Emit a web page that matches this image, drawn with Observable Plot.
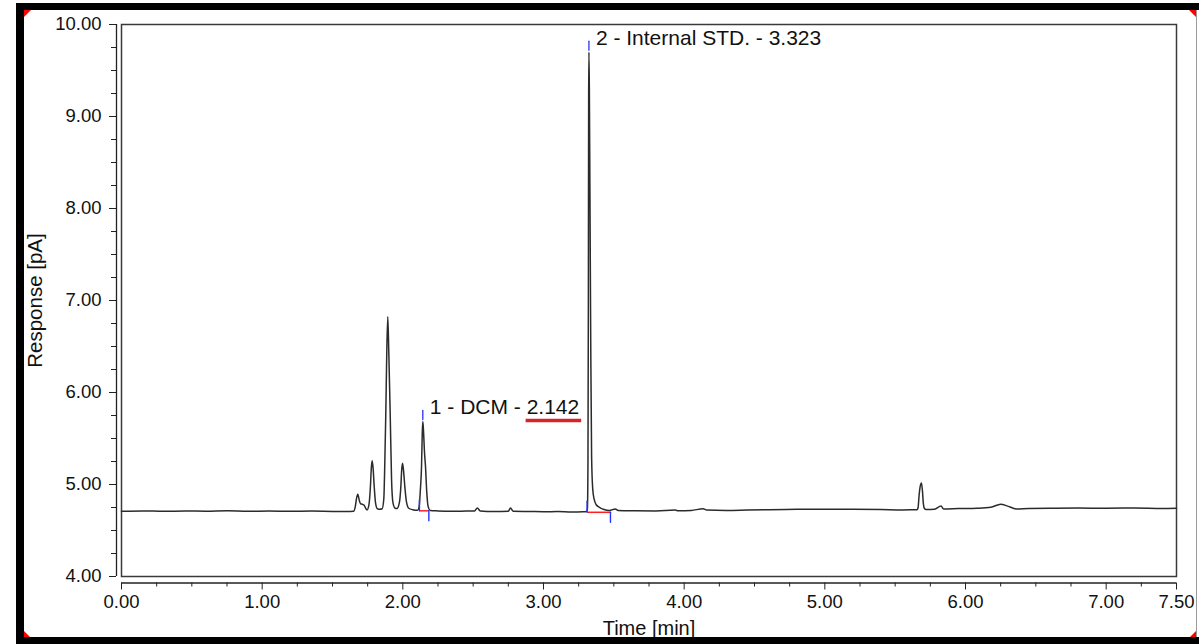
<!DOCTYPE html>
<html>
<head>
<meta charset="utf-8">
<script src="https://cdn.jsdelivr.net/npm/d3@7"></script>
<script src="https://cdn.jsdelivr.net/npm/@observablehq/plot@0.6"></script>
<style>
html, body { margin: 0; padding: 0; background: #fff; }
#wrap { position: relative; width: 1199px; height: 644px; overflow: hidden; background: #fff; }
#chart { position: absolute; left: 0; top: 0; }
.bar { position: absolute; background: #000; }
.tri { position: absolute; width: 0; height: 0; }
</style>
</head>
<body>
<div id="wrap">
  <div id="chart"></div>
  <div class="bar" style="left:16px;top:3px;width:1183px;height:7px"></div>
  <div class="bar" style="left:16px;top:3px;width:8px;height:641px"></div>
  <div class="bar" style="left:16px;top:637px;width:1183px;height:7px"></div>
  <div style="position:absolute;left:1196px;top:10px;width:1px;height:627px;background:#9a9a9a"></div>
  <div class="tri" style="left:24px;top:10px;border-top:7px solid #ff0000;border-right:7px solid transparent"></div>
  <div class="tri" style="left:1189px;top:10px;border-top:7px solid #ff0000;border-left:7px solid transparent"></div>
  <div class="tri" style="left:24px;top:631px;border-bottom:6px solid #ff0000;border-right:6px solid transparent"></div>
  <div class="tri" style="left:1190px;top:631px;border-bottom:6px solid #ff0000;border-left:6px solid transparent"></div>
</div>
<script>
// ---- Data ----
const traceTime = [
  0.00, 0.15, 0.30, 0.45, 0.60, 0.75, 0.90, 1.05, 1.20, 1.35, 1.50, 1.60,
  1.650, 1.662, 1.672, 1.680, 1.690, 1.700, 1.712, 1.725, 1.737, 1.746,
  1.758, 1.770, 1.776, 1.782, 1.789, 1.796, 1.806, 1.818, 1.835,
  1.853, 1.865, 1.872, 1.879, 1.886, 1.893, 1.900, 1.910, 1.920, 1.930, 1.945,
  1.958, 1.975, 1.986, 1.992, 1.998, 2.005, 2.014, 2.025, 2.042, 2.070,
  2.105, 2.116, 2.125, 2.133, 2.138, 2.142, 2.147, 2.154, 2.161, 2.170, 2.180, 2.195,
  2.25, 2.35, 2.45, 2.51, 2.53, 2.55, 2.65, 2.75, 2.765, 2.785, 2.90, 3.00, 3.10, 3.20, 3.28,
  3.305, 3.312, 3.316, 3.319, 3.321, 3.323, 3.326, 3.330, 3.336, 3.342, 3.350, 3.360, 3.375, 3.395, 3.430, 3.470,
  3.510, 3.530, 3.65, 3.80, 3.935, 3.96, 4.05, 4.135, 4.16, 4.30, 4.45, 4.60, 4.80, 5.00, 5.20, 5.40, 5.55,
  5.655, 5.663, 5.670, 5.678, 5.687, 5.694, 5.700, 5.708, 5.720,
  5.78, 5.826, 5.845, 5.95, 6.08, 6.18, 6.25, 6.30, 6.36, 6.45, 6.60, 6.80, 7.00, 7.20, 7.40, 7.50
];
const traceResponse = [
  4.710, 4.713, 4.709, 4.712, 4.710, 4.714, 4.709, 4.711, 4.708, 4.711, 4.707, 4.706,
  4.708, 4.760, 4.860, 4.895, 4.830, 4.790, 4.785, 4.775, 4.738, 4.724,
  4.770, 4.990, 5.180, 5.257, 5.170, 4.990, 4.800, 4.738, 4.730,
  4.736, 4.850, 5.250, 5.780, 6.450, 6.824, 6.450, 5.780, 5.050, 4.800, 4.742,
  4.738, 4.800, 4.980, 5.160, 5.232, 5.150, 4.980, 4.820, 4.742, 4.726,
  4.720, 4.760, 4.950, 5.200, 5.550, 5.685, 5.580, 5.350, 5.200, 4.920, 4.760, 4.718,
  4.713, 4.709, 4.711, 4.712, 4.745, 4.712, 4.706, 4.709, 4.745, 4.710, 4.707, 4.704, 4.706, 4.700, 4.703,
  4.706, 4.730, 5.200, 7.000, 9.200, 9.699, 9.300, 8.200, 6.500, 5.300, 4.950, 4.840, 4.780, 4.755, 4.728, 4.718,
  4.735, 4.718, 4.714, 4.712, 4.722, 4.714, 4.718, 4.736, 4.722, 4.718, 4.722, 4.726, 4.730, 4.732, 4.731, 4.728, 4.724,
  4.725, 4.750, 4.880, 4.980, 5.015, 4.930, 4.800, 4.740, 4.728,
  4.732, 4.766, 4.733, 4.738, 4.742, 4.752, 4.786, 4.765, 4.735, 4.740, 4.742, 4.744, 4.742, 4.744, 4.740, 4.742
];

// Integrated peaks
const peakNumbers = [1, 2];
const peakNames = ["DCM", "Internal STD."];
const peakTimes = [2.142, 3.323];
const peakApex = [5.685, 9.699];
const peakStart = [2.118, 3.310];
const peakEnd = [2.185, 3.476];
const peakBaseStart = [4.714, 4.698];
const peakBaseEnd = [4.714, 4.698];
const highlightedPeak = 0; // retention time underlined in red

// Axis ticks
const xTickValues = [0, 1, 2, 3, 4, 5, 6, 7, 7.5];
const xMinorTicks = [0.25, 0.5, 0.75, 1.25, 1.5, 1.75, 2.25, 2.5, 2.75, 3.25, 3.5, 3.75,
  4.25, 4.5, 4.75, 5.25, 5.5, 5.75, 6.25, 6.5, 6.75, 7.25];
const yTickValues = [4, 5, 6, 7, 8, 9, 10];
const yMinorTicks = [4.25, 4.5, 4.75, 5.25, 5.5, 5.75, 6.25, 6.5, 6.75, 7.25, 7.5, 7.75,
  8.25, 8.5, 8.75, 9.25, 9.5, 9.75];
const xTitle = "Time [min]";
const yTitle = "Response [pA]";

// ---- Build tables ----
const trace = traceTime.map((t, i) => ({t, v: traceResponse[i]}));
const peaks = peakNames.map((name, i) => ({
  label: `${peakNumbers[i]} - ${name} - ${peakTimes[i].toFixed(3)}`,
  time: peakTimes[i], apex: peakApex[i],
  start: peakStart[i], end: peakEnd[i],
  b0: peakBaseStart[i], b1: peakBaseEnd[i]
}));

const spike = {draw(context, l) { context.moveTo(0, 0); context.lineTo(0, -l); }};
const FONT = '"Liberation Sans", Arial, Helvetica, sans-serif';
const BLUE = "#2233ff";

const chart = Plot.plot({
  width: 1199,
  height: 644,
  marginLeft: 121,
  marginRight: 23,
  marginTop: 24,
  marginBottom: 68,
  style: {fontFamily: FONT, fontSize: "18.5px", color: "#111", background: "transparent", overflow: "visible"},
  x: {domain: [0, 7.5]},
  y: {domain: [4, 10]},
  marks: [
    Plot.frame({stroke: "#3a3a3a", strokeWidth: 1.5}),
    // y axis (offset to the left of the frame)
    Plot.ruleX([0], {dx: -5, stroke: "#222", strokeWidth: 1.3}),
    Plot.axisY(yMinorTicks, {tickSize: 5, dx: -5, tickFormat: () => "", label: null, stroke: "#222"}),
    Plot.axisY(yTickValues, {tickSize: 7, tickPadding: 8, dx: -5, tickFormat: d => d.toFixed(2),
      label: null, fontSize: 18.5, fill: "#111", stroke: "#222"}),
    // x axis (offset below the frame)
    Plot.ruleY([4], {dy: 6.5, stroke: "#222", strokeWidth: 1.3}),
    Plot.axisX(xMinorTicks, {tickSize: 4, dy: 6.5, tickFormat: () => "", label: null, stroke: "#222"}),
    Plot.axisX(xTickValues, {tickSize: 7, tickPadding: 5, dy: 6.5, tickFormat: d => d.toFixed(2),
      label: null, fontSize: 18.5, fill: "#111", stroke: "#222"}),
    // axis titles
    Plot.text([xTitle], {frameAnchor: "bottom", dy: 52.5, textAnchor: "middle", lineAnchor: "middle", fontSize: 20, fill: "#111"}),
    Plot.text([yTitle], {frameAnchor: "left", dx: -86, rotate: -90, textAnchor: "middle", lineAnchor: "middle", fontSize: 20.5, fill: "#111"}),
    // integration baselines
    Plot.link(peaks, {x1: "start", y1: "b0", x2: "end", y2: "b1", stroke: "#ff2020", strokeWidth: 1.5}),
    // trace
    Plot.line(trace, {x: "t", y: "v", stroke: "#2b2b2b", strokeWidth: 1.5, curve: "monotone-x"}),
    // peak start / end markers
    Plot.vector(peaks, {x: "start", y: "b0", length: 11, rotate: 0, anchor: "start", shape: spike, stroke: BLUE, strokeWidth: 1.4}),
    Plot.vector(peaks, {x: "end", y: "b1", length: 10, rotate: 180, anchor: "start", shape: spike, stroke: BLUE, strokeWidth: 1.4}),
    // apex markers
    Plot.vector(peaks, {x: "time", y: "apex", length: 9, rotate: 0, anchor: "start", dy: -2, shape: spike, stroke: BLUE, strokeWidth: 1.3}),
    // peak labels
    Plot.text(peaks, {x: "time", y: "apex", text: "label", dx: 7, dy: -7, textAnchor: "start", lineAnchor: "bottom",
      fontSize: 21, fill: "#111"})
  ]
});

document.getElementById("chart").appendChild(chart);

// red underline under the highlighted retention time
{
  const p = peaks[highlightedPeak];
  const rt = peakTimes[highlightedPeak].toFixed(3);
  d3.select(chart).selectAll("text").filter(function() { return this.textContent === p.label; }).each(function() {
    const i0 = p.label.lastIndexOf(rt);
    const a = this.getStartPositionOfChar(i0);
    const b = this.getEndPositionOfChar(i0 + rt.length - 1);
    d3.select(this.parentNode).append("line")
      .attr("transform", this.getAttribute("transform"))
      .attr("x1", a.x - 1).attr("x2", b.x + 2)
      .attr("y1", a.y + 6).attr("y2", a.y + 6)
      .attr("stroke", "#d9232b").attr("stroke-width", 3.5);
  });
}
</script>
</body>
</html>
